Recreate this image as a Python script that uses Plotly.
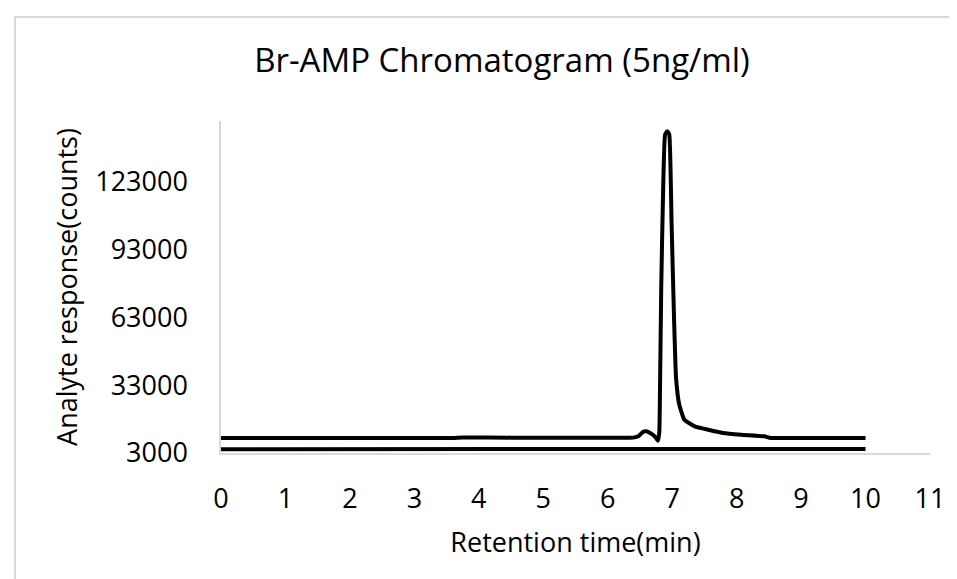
import plotly.graph_objects as go

# Retention time (min) and analyte response (counts)
time_sample = [0, 1, 2, 3, 3.6, 3.75, 4.5, 5.5, 6.0, 6.4, 6.48, 6.55, 6.6, 6.68,
               6.74, 6.78, 6.80, 6.805, 6.83, 6.86, 6.89, 6.925, 6.955, 6.99,
               7.03, 7.06, 7.11, 7.19, 7.35, 7.56, 7.79, 8.07, 8.43, 8.53, 9.0,
               9.5, 10]
resp_sample = [9650, 9650, 9650, 9650, 9650, 9900, 9800, 9800, 9800, 9800, 10500,
               12400, 12600, 11500, 10000, 8450, 12000, 17000, 76000, 120000,
               144000, 145500, 144000, 105600, 61300, 36200, 24400, 17700, 14800,
               13300, 11900, 11100, 10400, 9650, 9650, 9650, 9650]

time_blank = [0, 2, 3.6, 3.75, 5, 6.6, 7.0, 8.0, 9.0, 10]
resp_blank = [4700, 4700, 4700, 4950, 4900, 5100, 4900, 4800, 4800, 4800]

y_ticks = [3000, 33000, 63000, 93000, 123000]
x_ticks = list(range(0, 12))

title_text = "Br-AMP Chromatogram (5ng/ml)"
x_title = "Retention time(min)"
y_title = "Analyte response(counts)"

FONT = "Open Sans"
AXIS_FONT = 27

fig = go.Figure()
fig.add_trace(go.Scatter(x=time_sample, y=resp_sample, mode="lines",
                         line=dict(color="black", width=4, shape="spline", smoothing=0.4),
                         showlegend=False))
fig.add_trace(go.Scatter(x=time_blank, y=resp_blank, mode="lines",
                         line=dict(color="black", width=4), showlegend=False))

L, R, T, B = 213, 35, 113, 134
W, H = 957, 579
pw, ph = W - L - R, H - T - B

fig.update_layout(
    width=W, height=H,
    margin=dict(l=L, r=R, t=T, b=B),
    paper_bgcolor="white", plot_bgcolor="white",
    font=dict(family=FONT, color="black", size=AXIS_FONT),
    title=dict(text=title_text, x=494 / W, xanchor="center", xref="container",
               y=1 - 52 / H, yanchor="middle", yref="container",
               font=dict(size=33, family=FONT)),
    xaxis=dict(range=[0, 11], tickvals=x_ticks, ticktext=[str(v) for v in x_ticks],
               showline=True, linecolor="#d9d9d9", linewidth=1.5, showgrid=False,
               zeroline=False, ticks="", ticklabelstandoff=21,
               tickfont=dict(size=AXIS_FONT),
               title=dict(text=x_title, standoff=18, font=dict(size=AXIS_FONT))),
    yaxis=dict(range=[3000, 150000], tickvals=y_ticks, ticktext=[str(v) for v in y_ticks],
               showline=True, linecolor="#d9d9d9", linewidth=1.5, showgrid=False,
               zeroline=False, ticks="", ticklabelstandoff=26,
               tickfont=dict(size=AXIS_FONT),
               title=dict(text=y_title, standoff=10, font=dict(size=AXIS_FONT))),
    shapes=[dict(type="rect", xref="paper", yref="paper",
                 x0=(7 - L) / pw, x1=(W + 30 - L) / pw,
                 y0=-(H + 30 - (T + ph)) / ph, y1=(T + ph - 9) / ph,
                 line=dict(color="#d9d9d9", width=2), layer="below")],
)

fig.write_html("out.html")
